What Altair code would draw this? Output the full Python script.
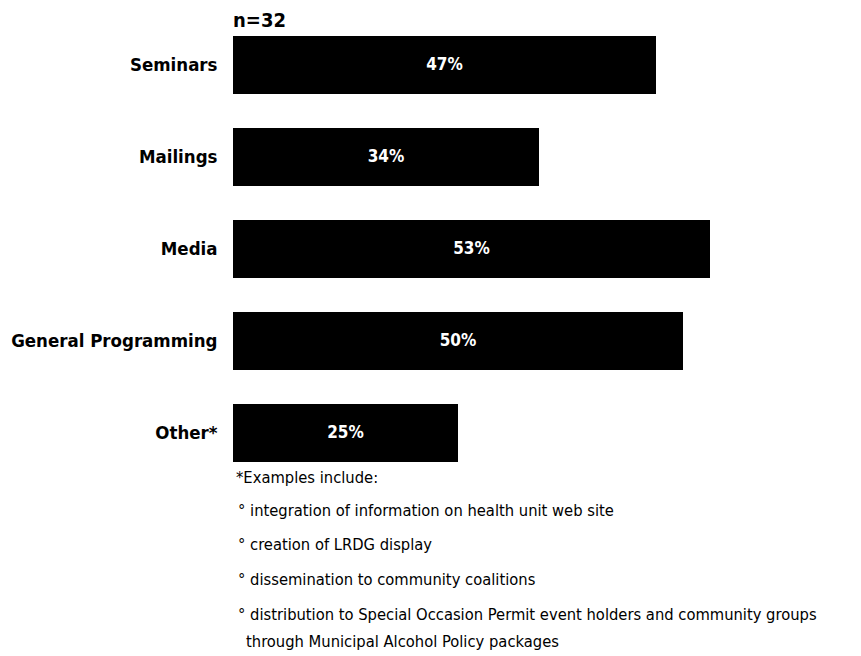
import altair as alt
import pandas as pd

categories = ["Seminars", "Mailings", "Media", "General Programming", "Other*"]
values = [47, 34, 53, 50, 25]
sample_label = "n=32"
footnote_lines = [
    "*Examples include:",
    "° integration of information on health unit web site",
    "° creation of LRDG display",
    "° dissemination to community coalitions",
    "° distribution to Special Occasion Permit event holders and community groups",
    "through Municipal Alcohol Policy packages",
]

FONT = "'Liberation Sans Narrow', 'DejaVu Sans Condensed', 'Liberation Sans', sans-serif"

df = pd.DataFrame({"category": categories, "value": values})
df["label"] = [f"{v}%" for v in values]

y_enc = alt.Y(
    "category:N",
    sort=categories,
    scale=alt.Scale(paddingInner=0.37, paddingOuter=0),
    axis=alt.Axis(
        title=None, ticks=False, domain=False, labelPadding=16,
        labelFont=FONT, labelFontSize=18.5, labelFontWeight="bold",
        labelColor="black", labelLimit=300,
    ),
)
x_scale = alt.Scale(domain=[0, 60], nice=False, zero=True)

base = alt.Chart(df)

bars = base.mark_bar(color="black").encode(
    x=alt.X("value:Q", scale=x_scale, axis=None),
    y=y_enc,
)

texts = base.transform_calculate(mid="datum.value / 2").mark_text(
    color="white", font=FONT, fontSize=17, fontWeight="bold", baseline="middle"
).encode(
    x=alt.X("mid:Q", scale=x_scale, axis=None),
    y=y_enc,
    text="label:N",
)

line_y = [478, 511, 545, 580, 615, 642]
line_x = [3, 5, 5, 5, 5, 13]
foot_layers = []
for txt, yy, xx in zip(footnote_lines, line_y, line_x):
    foot_layers.append(
        alt.Chart(pd.DataFrame({"t": [txt]})).mark_text(
            font=FONT, fontSize=16.4, color="black", align="left", baseline="middle"
        ).encode(
            x=alt.value(xx),
            y=alt.value(yy - 36),
            text="t:N",
        )
    )

chart = alt.layer(bars, texts, *foot_layers).properties(
    width=540,
    height=426,
    view=alt.ViewBackground(stroke="transparent", strokeWidth=0),
    title=alt.TitleParams(
        text=sample_label, anchor="start", font=FONT, fontSize=20,
        fontWeight="bold", color="black", offset=5, frame="group",
    ),
    autosize=alt.AutoSizeParams(type="none"),
    padding={"left": 225, "top": 28, "right": 80, "bottom": 190},
).configure_view(stroke="transparent", strokeWidth=0).configure(background="white")

chart.save("out.html", embed_options={"renderer": "svg", "actions": False})
